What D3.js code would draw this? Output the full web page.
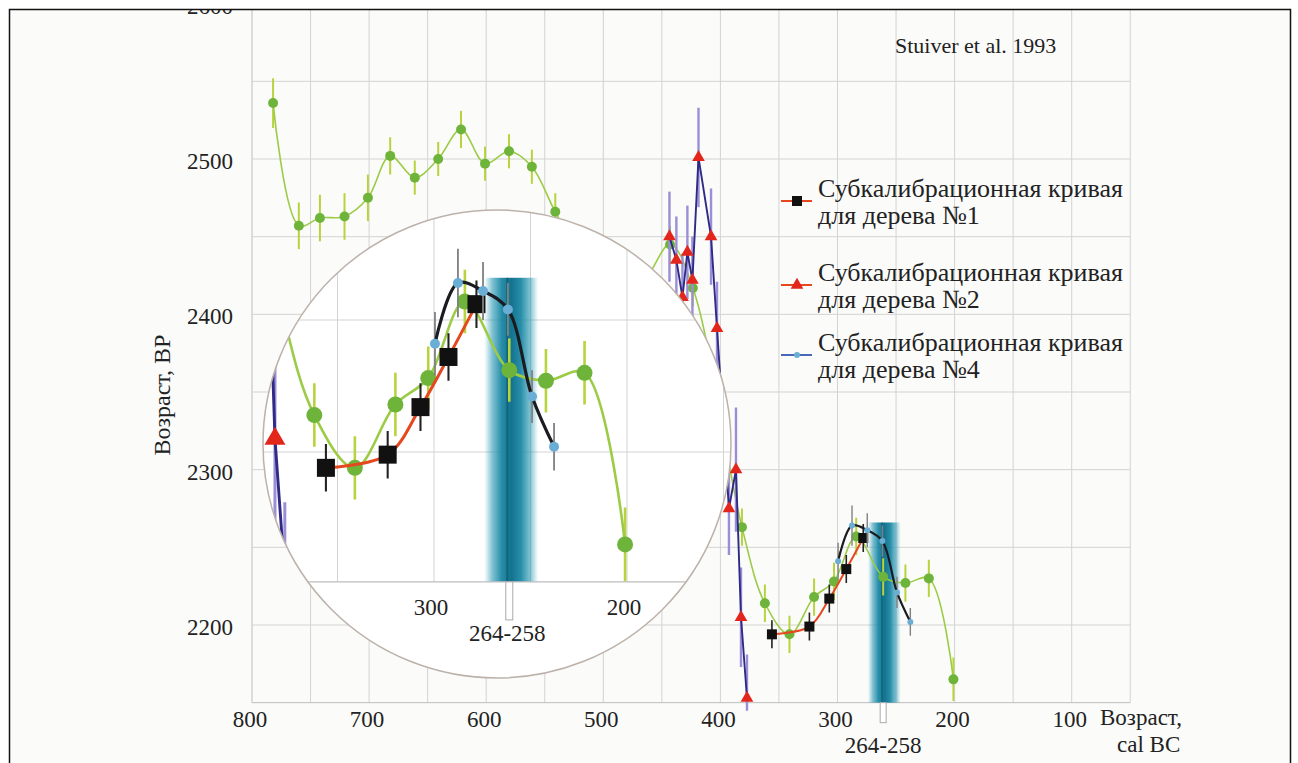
<!DOCTYPE html>
<html><head><meta charset="utf-8">
<script src="https://cdn.jsdelivr.net/npm/d3@7"></script>
<style>
html,body{margin:0;padding:0;background:#fff;}
svg{display:block;}
svg text{font-family:"Liberation Serif","Times New Roman",serif;}
</style></head><body>
<svg id="chart" width="1298" height="763"></svg>
<script>
// ---------- DATA ----------
const yTicks = [2200, 2300, 2400, 2500, 2600];
const xTicks = [800, 700, 600, 500, 400, 300, 200, 100];
const insetXTicks = [300, 200];
const intervalLabel = "264-258";
const intervalCenter = 261;
const bandFrom = 274, bandTo = 246, bandTopBP = 2266;

// Stuiver et al. 1993 calibration curve (green)
const stuiverYear = [782, 760, 742, 721, 701, 682, 661, 641, 621.5, 601, 580.5, 561, 541, 520, 470, 443, 423.5, 381.6, 362, 341, 320, 303, 284, 261, 242, 222, 201];
const stuiverBP   = [2536, 2457, 2462, 2463, 2475, 2502, 2488, 2500, 2519, 2497, 2505, 2495, 2466, 2440, 2420, 2445, 2417, 2263, 2214, 2194, 2218, 2228, 2257, 2231, 2227, 2230, 2165];
const stuiverErr  = [16, 15, 15, 15, 15, 12, 11, 11, 12, 11, 11, 11, 12, 12, 12, 12, 12, 12, 12, 12, 12, 12, 12, 12, 12, 12, 14];

// Tree 1 (black squares, red line)
const tree1Year = [356, 324, 307, 292.5, 278];
const tree1BP   = [2194, 2199, 2217, 2236, 2256];
const tree1Err  = [9, 9, 9, 9, 9];

// Tree 2 (red triangles)
const tree2Year = [443.5, 437.6, 432.4, 428.2, 423.9, 418.7, 408, 402.9, 392.7, 386.7, 382.4, 377.3];
const tree2BP   = [2450, 2435, 2411, 2440, 2422, 2501, 2450, 2391, 2275, 2300, 2205, 2153];
const tree2Err  = [29, 28, 28, 30, 28, 32, 31, 30, 30, 40, 32, 28];

// Tree 4 (light-blue dots, dark line)
const tree4Year = [299.5, 287.6, 274.6, 261.7, 249.2, 237.8];
const tree4BP   = [2241, 2264, 2261, 2254, 2221, 2202];
const tree4Err  = [12, 13, 11, 10, 10, 9];

// ---------- SETUP ----------
const FONT = "'Liberation Serif','Times New Roman',serif";
const svg = d3.select("#chart");
const defs = svg.append("defs");

const xMain = d3.scaleLinear().domain([800, 100]).range([252, 1071.7]);
const yMain = d3.scaleLinear().domain([2500, 2200]).range([159, 625]);
const xIn = d3.scaleLinear().domain([300, 200]).range([434, 627]);
const yIn = d3.scaleLinear().domain([2250, 2200]).range([320, 452]);

const plotL = xMain(800), plotR = xMain(50), plotB = yMain(2150);
const circ = {cx: 497, cy: 444, r: 234};
const insetAxisY = yIn(2150.8);

svg.append("rect").attr("x", 0).attr("y", 0).attr("width", 1298).attr("height", 763).attr("fill", "#fbfbfa");

// band gradient
const grad = defs.append("linearGradient").attr("id", "bandGrad").attr("x1", 0).attr("x2", 1).attr("y1", 0).attr("y2", 0);
[[0, "#3aa6bf", 0], [0.15, "#2a98b3", 0.6], [0.32, "#1d88a4", 0.95], [0.5, "#13738f", 1], [0.68, "#1d88a4", 0.95], [0.85, "#2a98b3", 0.6], [1, "#3aa6bf", 0]]
  .forEach(s => grad.append("stop").attr("offset", s[0]).attr("stop-color", s[1]).attr("stop-opacity", s[2]));

defs.append("clipPath").attr("id", "circClip").append("circle").attr("cx", circ.cx).attr("cy", circ.cy).attr("r", circ.r);
defs.append("clipPath").attr("id", "insetRect").append("rect").attr("x", 0).attr("y", 0).attr("width", 1298).attr("height", insetAxisY);
defs.append("clipPath").attr("id", "mainRect").append("rect").attr("x", plotL).attr("y", 0).attr("width", plotR - plotL).attr("height", plotB + 8);

const gridColor = "#d3d3d3";

// ---------- MAIN GRID ----------
const gMain = svg.append("g");
const gridYears = d3.range(800, 49, -50);
const gridBP = d3.range(2150, 2601, 50);
gMain.selectAll(".vg").data(gridYears).join("line")
  .attr("x1", d => xMain(d)).attr("x2", d => xMain(d)).attr("y1", 0).attr("y2", plotB)
  .attr("stroke", (d) => d === 800 ? "#bdbdbd" : gridColor).attr("stroke-width", 1);
gMain.selectAll(".hg").data(gridBP).join("line")
  .attr("x1", plotL).attr("x2", plotR).attr("y1", d => yMain(d)).attr("y2", d => yMain(d))
  .attr("stroke", d => d === 2150 ? "#bdbdbd" : gridColor).attr("stroke-width", 1);

// ---------- SERIES DRAW ----------
function zip(ys, bs, es) { return ys.map((y, i) => ({year: y, bp: bs[i], err: es[i]})); }
const green = zip(stuiverYear, stuiverBP, stuiverErr);
const t1 = zip(tree1Year, tree1BP, tree1Err);
const t2 = zip(tree2Year, tree2BP, tree2Err);
const t4 = zip(tree4Year, tree4BP, tree4Err);

function drawBand(g, xs, ys, bottom, lw) {
  g.append("rect").attr("x", xs(bandFrom)).attr("width", xs(bandTo) - xs(bandFrom))
    .attr("y", ys(bandTopBP)).attr("height", bottom - ys(bandTopBP)).attr("fill", "url(#bandGrad)");
  g.append("line").attr("x1", xs(intervalCenter + 1)).attr("x2", xs(intervalCenter + 1))
    .attr("y1", ys(bandTopBP)).attr("y2", bottom).attr("stroke", "#0a5268").attr("stroke-width", lw).attr("opacity", 0.6);
}

function drawSeries(g, xs, ys, o) {
  const smooth = d3.line().x(d => xs(d.year)).y(d => ys(d.bp)).curve(d3.curveCatmullRom.alpha(0.5));
  const straight = d3.line().x(d => xs(d.year)).y(d => ys(d.bp));
  const errs = (data, color, w) => g.append("g").selectAll("line").data(data).join("line")
      .attr("x1", d => xs(d.year)).attr("x2", d => xs(d.year))
      .attr("y1", d => ys(d.bp - d.err)).attr("y2", d => ys(d.bp + d.err))
      .attr("stroke", color).attr("stroke-width", w);

  // green calibration curve
  errs(green, "#b7d43e", o.ew);
  g.append("path").datum(green).attr("d", smooth).attr("fill", "none").attr("stroke", "#9ccb45").attr("stroke-width", o.lw);
  g.append("g").selectAll("circle").data(green).join("circle")
    .attr("cx", d => xs(d.year)).attr("cy", d => ys(d.bp)).attr("r", o.gR).attr("fill", "#6fb43a");

  // tree 2
  errs(t2, "#9a8fd6", o.ew + 0.4);
  g.append("path").datum(t2).attr("d", straight).attr("fill", "none").attr("stroke", "#2e2a86").attr("stroke-width", o.lw + 0.3);
  const tri = d3.symbol().type(d3.symbolTriangle).size(o.tri);
  g.append("g").selectAll("path").data(t2).join("path")
    .attr("transform", d => `translate(${xs(d.year)},${ys(d.bp)})`).attr("d", tri).attr("fill", "#e3261c");

  // tree 1
  errs(t1, "#222", o.ew * 0.8);
  g.append("path").datum(t1).attr("d", smooth).attr("fill", "none").attr("stroke", "#e5481f").attr("stroke-width", o.lw + 0.4);
  g.append("g").selectAll("rect").data(t1).join("rect")
    .attr("x", d => xs(d.year) - o.sq / 2).attr("y", d => ys(d.bp) - o.sq / 2)
    .attr("width", o.sq).attr("height", o.sq).attr("fill", "#111");

  // tree 4
  errs(t4, "#808080", o.ew * 0.7);
  g.append("path").datum(t4).attr("d", smooth).attr("fill", "none").attr("stroke", "#1b1b22").attr("stroke-width", o.lw + 0.6);
  g.append("g").selectAll("circle").data(t4).join("circle")
    .attr("cx", d => xs(d.year)).attr("cy", d => ys(d.bp)).attr("r", o.t4r).attr("fill", "#6aaed6");
}

const gMainData = gMain.append("g").attr("clip-path", "url(#mainRect)");
drawBand(gMainData, xMain, yMain, plotB, 1.5);
drawSeries(gMainData, xMain, yMain, {gR: 5, sq: 10, tri: 70, t4r: 3, lw: 1.6, ew: 2});

// main tick box under band
gMain.append("rect").attr("x", xMain(intervalCenter) - 3).attr("y", plotB).attr("width", 6).attr("height", 20)
  .attr("fill", "#fff").attr("stroke", "#aaa").attr("stroke-width", 1);

// ---------- INSET (magnifier) ----------
svg.append("circle").attr("cx", circ.cx).attr("cy", circ.cy).attr("r", circ.r).attr("fill", "#fff");
const gOuter = svg.append("g").attr("clip-path", "url(#circClip)");
const gIn = gOuter.append("g").attr("clip-path", "url(#insetRect)");
gIn.selectAll(".ivg").data(d3.range(400, 99, -50)).join("line")
  .attr("x1", d => xIn(d)).attr("x2", d => xIn(d)).attr("y1", 0).attr("y2", insetAxisY)
  .attr("stroke", gridColor).attr("stroke-width", 1);
gIn.selectAll(".ihg").data(d3.range(2150, 2351, 50)).join("line")
  .attr("x1", 0).attr("x2", 1298).attr("y1", d => yIn(d)).attr("y2", d => yIn(d))
  .attr("stroke", gridColor).attr("stroke-width", 1);
drawBand(gIn, xIn, yIn, insetAxisY, 2);
drawSeries(gIn, xIn, yIn, {gR: 8, sq: 18, tri: 190, t4r: 5, lw: 2.6, ew: 2.6});
gOuter.append("line").attr("x1", 0).attr("x2", 1298).attr("y1", insetAxisY).attr("y2", insetAxisY)
  .attr("stroke", "#bdbdbd").attr("stroke-width", 1.2);
gOuter.append("rect").attr("x", xIn(intervalCenter) - 3.5).attr("y", insetAxisY).attr("width", 7).attr("height", 38)
  .attr("fill", "#fff").attr("stroke", "#aaa").attr("stroke-width", 1);
svg.append("circle").attr("cx", circ.cx).attr("cy", circ.cy).attr("r", circ.r)
  .attr("fill", "none").attr("stroke", "#bdb2aa").attr("stroke-width", 1.5);

// inset labels
svg.selectAll(".ixl").data(insetXTicks).join("text")
  .attr("x", d => xIn(d) - 3).attr("y", 607).attr("dy", "0.35em").attr("text-anchor", "middle")
  .attr("font-family", FONT).attr("font-size", 23).attr("fill", "#222").text(d => d);
svg.append("text").attr("x", xIn(intervalCenter) - 2).attr("y", 633).attr("dy", "0.35em").attr("text-anchor", "middle")
  .attr("font-family", FONT).attr("font-size", 23).attr("fill", "#222").text(intervalLabel);

// ---------- AXIS LABELS ----------
svg.selectAll(".yl").data(yTicks).join("text")
  .attr("x", 233).attr("y", d => yMain(d) + 2).attr("dy", "0.35em").attr("text-anchor", "end")
  .attr("font-family", FONT).attr("font-size", 23).attr("fill", "#222").text(d => d);
svg.selectAll(".xl").data(xTicks).join("text")
  .attr("x", d => xMain(d) - 2).attr("y", 719).attr("dy", "0.35em").attr("text-anchor", "middle")
  .attr("font-family", FONT).attr("font-size", 23).attr("fill", "#222").text(d => d);
svg.append("text").attr("x", xMain(intervalCenter)).attr("y", 745).attr("dy", "0.35em").attr("text-anchor", "middle")
  .attr("font-family", FONT).attr("font-size", 23).attr("fill", "#222").text(intervalLabel);
svg.append("text").attr("x", 1100).attr("y", 717).attr("dy", "0.35em").attr("font-family", FONT).attr("font-size", 23).attr("fill", "#222").text("Возраст,");
svg.append("text").attr("x", 1117).attr("y", 744).attr("dy", "0.35em").attr("font-family", FONT).attr("font-size", 23).attr("fill", "#222").text("cal BC");
svg.append("text").attr("transform", "translate(162,395) rotate(-90)").attr("dy", "0.35em").attr("text-anchor", "middle")
  .attr("font-family", FONT).attr("font-size", 24).attr("fill", "#222").text("Возраст, BP");
svg.append("text").attr("x", 895).attr("y", 45).attr("dy", "0.35em").attr("font-family", FONT).attr("font-size", 22).attr("fill", "#222").text("Stuiver et al. 1993");

// ---------- LEGEND ----------
const legendNames = ["Субкалибрационная кривая|для дерева №1", "Субкалибрационная кривая|для дерева №2", "Субкалибрационная кривая|для дерева №4"];
const legY = [188, 272, 342];
const gL = svg.append("g");
legendNames.forEach((name, i) => {
  const lines = name.split("|");
  lines.forEach((t, j) => gL.append("text").attr("x", 818).attr("y", legY[i] + j * 27).attr("dy", "0.35em")
    .attr("font-family", FONT).attr("font-size", 26).attr("fill", "#222").text(t));
  const my = legY[i] + 13;
  const lc = i === 2 ? "#4a68b8" : "#e5481f";
  gL.append("line").attr("x1", 781).attr("x2", 812).attr("y1", my).attr("y2", my).attr("stroke", lc).attr("stroke-width", 2);
  if (i === 0) gL.append("rect").attr("x", 792).attr("y", my - 5).attr("width", 10).attr("height", 10).attr("fill", "#111");
  if (i === 1) gL.append("path").attr("transform", `translate(797,${my})`).attr("d", d3.symbol().type(d3.symbolTriangle).size(70)).attr("fill", "#e3261c");
  if (i === 2) gL.append("circle").attr("cx", 797).attr("cy", my).attr("r", 3).attr("fill", "#6aaed6");
});

// ---------- PAGE FRAME ----------
svg.append("rect").attr("x", 0).attr("y", 0).attr("width", 1298).attr("height", 9).attr("fill", "#fff");
svg.append("rect").attr("x", 0).attr("y", 0).attr("width", 9).attr("height", 763).attr("fill", "#fff");
svg.append("rect").attr("x", 1291).attr("y", 0).attr("width", 7).attr("height", 763).attr("fill", "#fff");
svg.append("path").attr("d", "M9.5,763 V9.5 H1290.5 V763").attr("fill", "none").attr("stroke", "#111").attr("stroke-width", 1.5);
</script>
</body></html>
